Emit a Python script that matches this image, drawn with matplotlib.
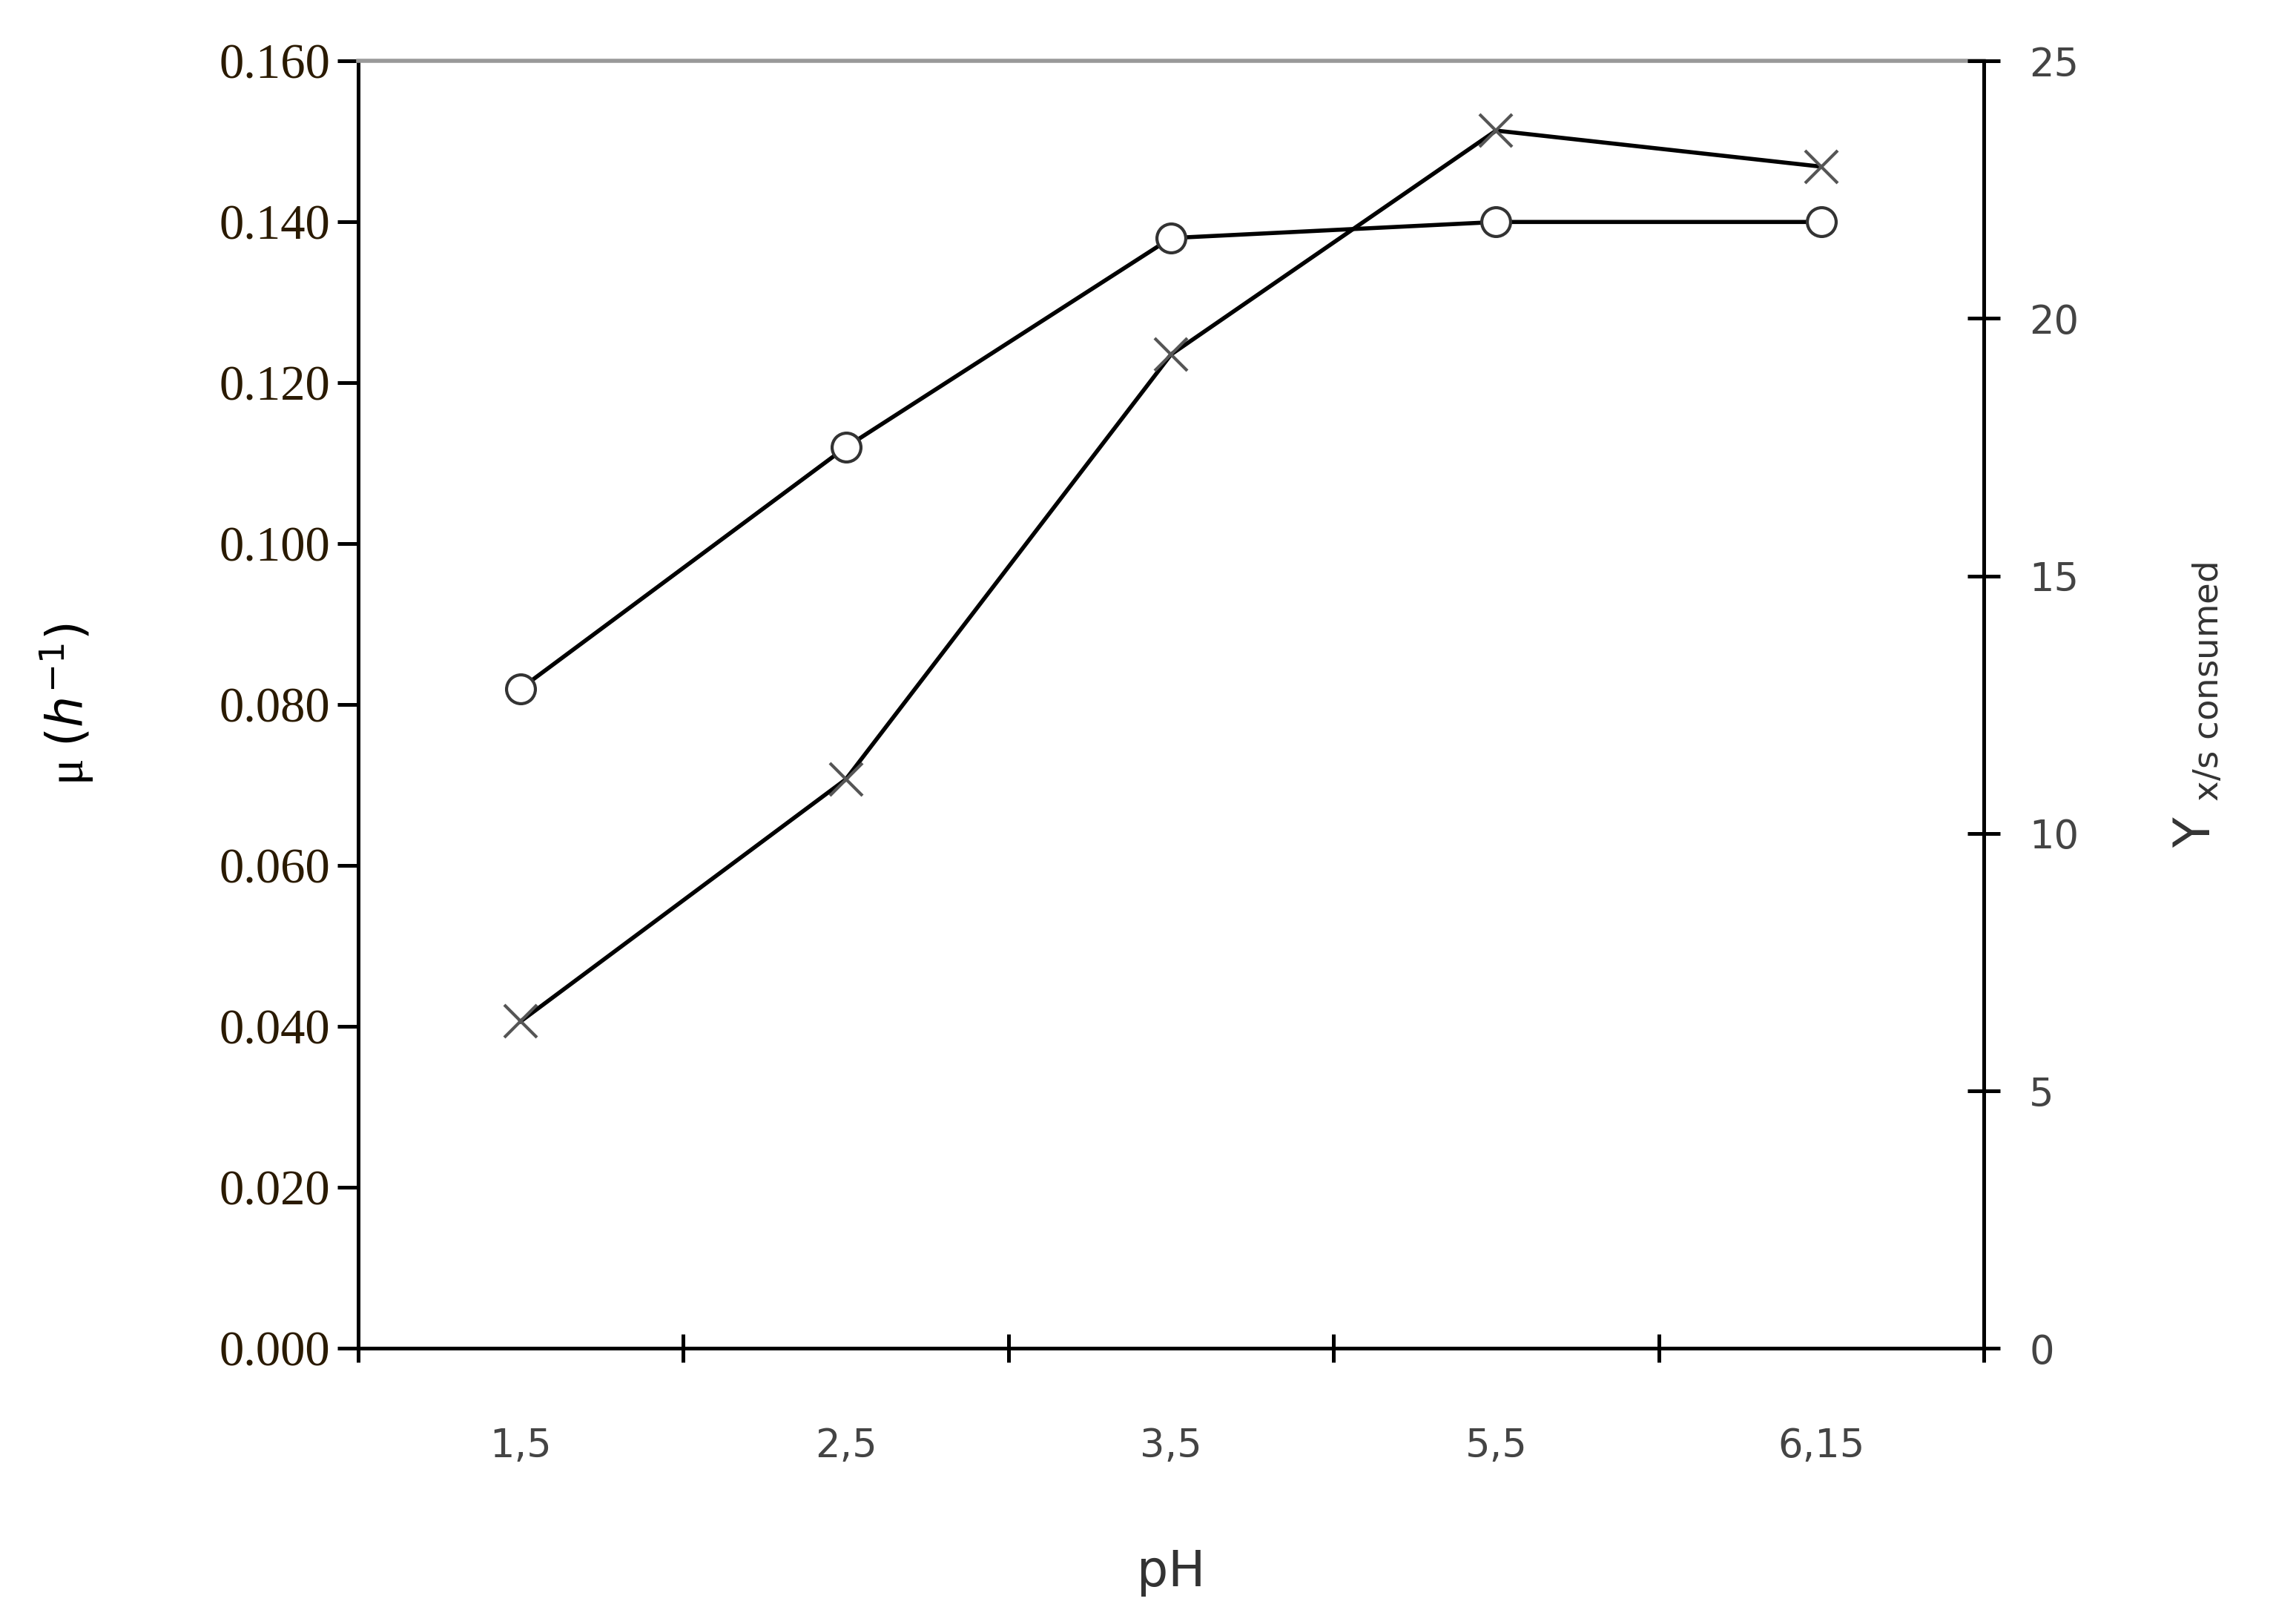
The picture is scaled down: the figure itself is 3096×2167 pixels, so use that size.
import matplotlib.pyplot as plt

ph_labels = ['1,5', '2,5', '3,5', '5,5', '6,15']
mu = [0.082, 0.112, 0.138, 0.140, 0.140]
yield_xs = [6.35, 11.05, 19.3, 23.65, 22.95]

fig = plt.figure(figsize=(15.48, 10.835), dpi=200)
ax = fig.add_axes([0.156, 0.161, 0.708, 0.801])
pos = [i + 0.5 for i in range(len(ph_labels))]

ax.plot(pos, mu, color='black', lw=2, marker='o', ms=14, mfc='white', mec='#333333', mew=1.5)
ax.set_xlim(0, 5)
ax.set_ylim(0, 0.16)
ax.set_yticks([i * 0.02 for i in range(9)])
ax.set_yticklabels(['%.3f' % (i * 0.02) for i in range(9)], family='Liberation Serif', fontsize=24, color='#2a1a00')
ax.set_xticks(range(6))
ax.set_xticklabels([])
ax.set_xticks(pos, minor=True)
ax.set_xticklabels(ph_labels, minor=True, fontsize=19, color='#444444')
ax.tick_params(axis='x', which='major', direction='inout', length=14, width=1.8)
ax.tick_params(axis='x', which='minor', length=0, pad=38)
ax.tick_params(axis='y', direction='out', length=10, width=1.8)
ax.spines['top'].set_color('#999999')
for s in ['left', 'bottom', 'right']:
    ax.spines[s].set_linewidth(1.8)
ax.spines['top'].set_linewidth(2)
ax.set_xlabel('pH', fontsize=24, color='#333333', labelpad=40)
ax.set_ylabel(r'μ $(h^{-1})$', fontsize=24, family='Liberation Serif', labelpad=60)

ax2 = ax.twinx()
ax2.plot(pos, yield_xs, color='black', lw=2, marker='x', ms=16, mec='#555555', mew=1.5)
ax2.set_ylim(0, 25)
ax2.set_yticks(range(0, 26, 5))
ax2.tick_params(axis='y', direction='inout', length=16, width=1.8, labelsize=19, labelcolor='#444444', pad=14)
ax2.spines['right'].set_linewidth(1.8)
for s in ['top', 'left', 'bottom']:
    ax2.spines[s].set_visible(False)
ax2.set_ylabel(r'Y $_{\mathregular{x/s\ consumed}}$', fontsize=24, color='#333333', labelpad=45)

fig.savefig('out.png', dpi=200)
